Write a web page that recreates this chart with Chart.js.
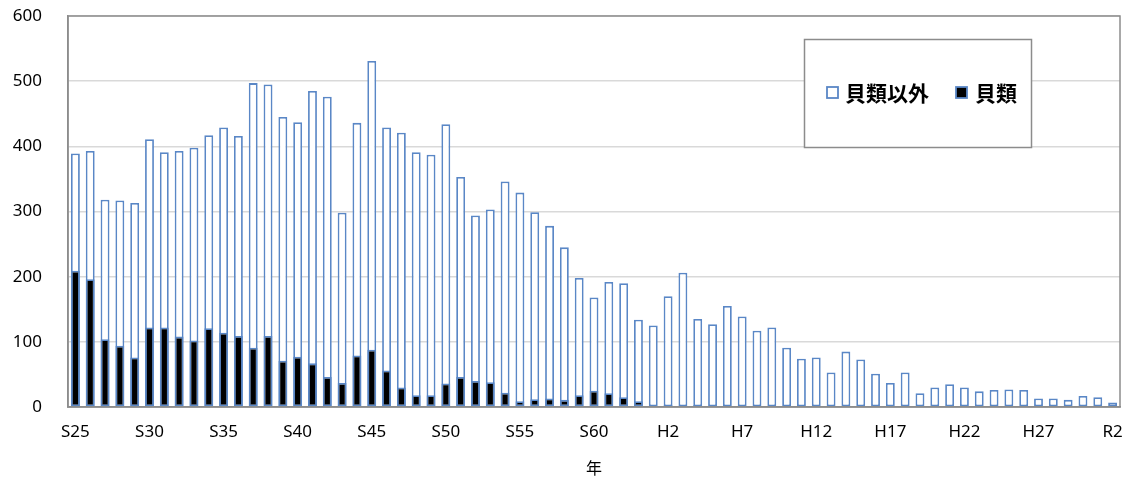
<!DOCTYPE html>
<html lang="ja">
<head>
<meta charset="utf-8">
<script src="https://cdn.jsdelivr.net/npm/chart.js@4.4.0/dist/chart.umd.min.js"></script>
<style>
  html, body { margin: 0; padding: 0; background: #fff; }
  #wrap { width: 1132px; height: 479px; }
</style>
</head>
<body>
<div id="wrap"><canvas id="chart"></canvas></div>
<script>
// 年 (S25..S63, H1..H30, R1, R2)
const years = [
  "S25","S26","S27","S28","S29","S30","S31","S32","S33","S34",
  "S35","S36","S37","S38","S39","S40","S41","S42","S43","S44",
  "S45","S46","S47","S48","S49","S50","S51","S52","S53","S54",
  "S55","S56","S57","S58","S59","S60","S61","S62","S63",
  "H1","H2","H3","H4","H5","H6","H7","H8","H9","H10",
  "H11","H12","H13","H14","H15","H16","H17","H18","H19","H20",
  "H21","H22","H23","H24","H25","H26","H27","H28","H29","H30",
  "R1","R2"
];
const tickLabels = ["S25","S30","S35","S40","S45","S50","S55","S60","H2","H7","H12","H17","H22","H27","R2"];

const nonShellfish = [
  389, 393, 318, 317, 313, 411, 391, 393, 398, 417,
  429, 416, 497, 495, 445, 437, 485, 476, 298, 436,
  531, 429, 421, 391, 387, 434, 353, 294, 303, 346,
  329, 299, 278, 245, 198, 168, 192, 190, 134,
  125, 170, 206, 135, 127, 155, 139, 117, 122, 91,
  74, 76, 53, 85, 73, 51, 37, 53, 21, 30,
  35, 30, 24, 26, 27, 26, 13, 13, 11, 17,
  15, 7
];
const shellfish = [
  209, 196, 104, 94, 76, 122, 122, 108, 102, 121,
  114, 109, 91, 109, 71, 77, 67, 46, 37, 79,
  88, 56, 30, 18, 18, 36, 46, 40, 38, 22,
  9, 12, 13, 11, 18, 25, 21, 15, 9,
  1, 3, 2, 3, 0, 0, 0, 0, 0, 0,
  0, 0, 0, 0, 0, 0, 0, 0, 0, 0,
  0, 0, 0, 0, 0, 0, 0, 0, 0, 0,
  0, 0
];

const blue = "#5a87c6";
const tickFont = { family: "'Noto Sans', sans-serif", size: 17 };

// legend box drawn inside the plot area, like the Excel one
const boxLegend = {
  id: "boxLegend",
  afterDatasetsDraw(chart) {
    const { ctx, chartArea } = chart;
    const x = chartArea.right - 316, y = chartArea.top + 23;
    ctx.save();
    ctx.fillStyle = "#fff";
    ctx.fillRect(x, y, 227, 108);
    ctx.strokeStyle = "#8c8c8c";
    ctx.lineWidth = 1.5;
    ctx.strokeRect(x + 0.5, y + 0.5, 227, 108);

    ctx.font = "bold 21px 'Noto Sans CJK JP'";
    ctx.textBaseline = "middle";
    ctx.fillStyle = "#000";
    const items = [
      { label: chart.data.datasets[1].label, fill: "#fff", sx: x + 23, tx: x + 41 },
      { label: chart.data.datasets[0].label, fill: "#000", sx: x + 152, tx: x + 171 }
    ];
    items.forEach(it => {
      ctx.fillStyle = it.fill;
      ctx.fillRect(it.sx, y + 48, 11, 11);
      ctx.strokeStyle = blue;
      ctx.lineWidth = 1.8;
      ctx.strokeRect(it.sx, y + 48, 11, 11);
      ctx.fillStyle = "#000";
      ctx.fillText(it.label, it.tx, y + 54);
    });
    ctx.restore();
  }
};

// grey frame round the plot area
const frame = {
  id: "frame",
  afterDraw(chart) {
    const { ctx, chartArea: a } = chart;
    ctx.save();
    ctx.strokeStyle = "#8c8c8c";
    ctx.lineWidth = 1.5;
    ctx.strokeRect(a.left, a.top, a.right - a.left, a.bottom - a.top);
    ctx.restore();
  }
};

new Chart(document.getElementById("chart"), {
  type: "bar",
  data: {
    labels: years,
    datasets: [{
      label: "貝類",
      data: shellfish,
      backgroundColor: "#000",
      borderColor: blue,
      borderWidth: 1.8,
      borderSkipped: false,
      grouped: false,
      order: 0
    }, {
      label: "貝類以外",
      data: nonShellfish,
      backgroundColor: "#fff",
      borderColor: blue,
      borderWidth: 1.8,
      borderSkipped: false,
      grouped: false,
      order: 1
    }]
  },
  options: {
    responsive: true,
    maintainAspectRatio: false,
    animation: false,
    layout: { padding: { left: 0, right: 12, top: 16, bottom: 0 } },
    datasets: { bar: { barPercentage: 0.6, categoryPercentage: 1 } },
    plugins: {
      legend: { display: false },
      tooltip: { enabled: false }
    },
    scales: {
      x: {
        grid: { display: false, drawTicks: false },
        border: { color: "#8c8c8c", width: 1.5 },
        ticks: {
          autoSkip: false,
          maxRotation: 0,
          padding: 15,
          color: "#000",
          font: tickFont,
          callback(value) {
            const lab = this.getLabelForValue(value);
            return tickLabels.includes(lab) ? lab : "";
          }
        },
        title: {
          display: true,
          text: "年",
          color: "#000",
          font: { family: "'Noto Sans CJK JP'", size: 16 },
          padding: { top: 4, bottom: 1 }
        },
        afterFit(s) {
          s.height = 72;
          s.paddingLeft = 0;
          s.paddingRight = 0;
        }
      },
      y: {
        min: 0,
        max: 600,
        grid: { color: "#d9d9d9", lineWidth: 1.5, drawTicks: false },
        border: { color: "#8c8c8c", width: 1.5 },
        ticks: { stepSize: 100, padding: 26, color: "#000", font: tickFont },
        afterFit(s) {
          s.width = 68;
          s.paddingTop = 0;
          s.paddingBottom = 0;
        }
      }
    }
  },
  plugins: [boxLegend, frame]
});
</script>
</body>
</html>
